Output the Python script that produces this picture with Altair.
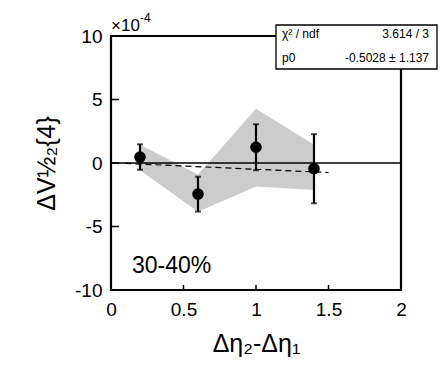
import altair as alt
import pandas as pd

# data points
x_vals = [0.2, 0.6, 1.0, 1.4]
y_vals = [0.47, -2.45, 1.24, -0.45]
y_err = [1.0, 1.37, 1.81, 2.72]

# systematic band
band_x = [0.2, 0.6, 1.0, 1.4]
band_lo = [-0.57, -3.83, -1.86, -2.13]
band_hi = [1.44, -0.9, 4.27, 1.44]

# fit line (dashed)
fit_x = [0.1, 1.5]
fit_y = [-0.03, -0.75]

# axis ticks
x_ticks = [0, 0.5, 1, 1.5, 2]
y_ticks = [-10, -5, 0, 5, 10]

FONT = "Liberation Sans"
W, H = 290, 254

xs = alt.Scale(domain=[0, 2], nice=False, zero=False)
ys = alt.Scale(domain=[-10, 10], nice=False, zero=False)

pts = pd.DataFrame({"x": x_vals, "y": y_vals,
                    "lo": [a - b for a, b in zip(y_vals, y_err)],
                    "hi": [a + b for a, b in zip(y_vals, y_err)]})
band = pd.DataFrame({"x": band_x, "lo": band_lo, "hi": band_hi})
fit = pd.DataFrame({"x": fit_x, "y": fit_y})

xaxis = alt.Axis(values=x_ticks, ticks=False, domain=False, grid=False,
                 labelExpr="'' + datum.value",
                 labelFont=FONT, labelFontSize=19, labelPadding=10,
                 labelColor="black", title="Δη₂-Δη₁", titleFont=FONT,
                 titleFontSize=25, titleFontWeight="normal", titlePadding=12,
                 titleColor="black", labelFlush=False)
yaxis = alt.Axis(values=y_ticks, ticks=False, domain=False, grid=False,
                 labelExpr="'' + datum.value",
                 labelFont=FONT, labelFontSize=19, labelPadding=9,
                 labelColor="black", title="ΔV½₂{4}", titleFont=FONT,
                 titleFontSize=25, titleFontWeight="normal", titlePadding=15,
                 titleColor="black", labelFlush=False)

base = alt.Chart(band)
area = base.mark_area(color="#cccccc", opacity=1).encode(
    x=alt.X("x:Q", scale=xs, axis=xaxis),
    y=alt.Y("lo:Q", scale=ys, axis=yaxis),
    y2="hi:Q")

zero = alt.Chart(pd.DataFrame({"x": [0], "x2": [2], "y": [0]})).mark_rule(
    color="black", strokeWidth=1.3).encode(
    x=alt.X("x:Q", scale=xs), x2="x2:Q", y=alt.Y("y:Q", scale=ys))

fitl = alt.Chart(fit).mark_line(color="black", strokeWidth=1.2,
                                strokeDash=[6, 4]).encode(
    x=alt.X("x:Q", scale=xs), y=alt.Y("y:Q", scale=ys))

bars = alt.Chart(pts).mark_rule(color="black", strokeWidth=2.2).encode(
    x=alt.X("x:Q", scale=xs), y=alt.Y("lo:Q", scale=ys), y2="hi:Q")
caplo = alt.Chart(pts).mark_tick(color="black", orient="horizontal",
                                 size=6, thickness=2).encode(
    x=alt.X("x:Q", scale=xs), y=alt.Y("lo:Q", scale=ys))
caphi = alt.Chart(pts).mark_tick(color="black", orient="horizontal",
                                 size=6, thickness=2).encode(
    x=alt.X("x:Q", scale=xs), y=alt.Y("hi:Q", scale=ys))
dots = alt.Chart(pts).mark_circle(color="black", opacity=1, size=135).encode(
    x=alt.X("x:Q", scale=xs), y=alt.Y("y:Q", scale=ys))

# inward ticks
yt = pd.DataFrame({"y": y_ticks[1:-1]})
ytick = alt.Chart(yt).mark_rule(color="black", strokeWidth=1.5).encode(
    x=alt.value(0), x2=alt.value(8), y=alt.Y("y:Q", scale=ys))
xt = pd.DataFrame({"x": x_ticks[1:-1]})
xtick = alt.Chart(xt).mark_rule(color="black", strokeWidth=1.5).encode(
    x=alt.X("x:Q", scale=xs), y=alt.value(H), y2=alt.value(H - 5))

# annotations
exp_txt = alt.Chart(pd.DataFrame({"t": ["×10"]})).mark_text(
    font=FONT, fontSize=17, align="left", baseline="alphabetic", color="black").encode(
    text="t:N", x=alt.value(0), y=alt.value(-5))
exp_sup = alt.Chart(pd.DataFrame({"t": ["-4"]})).mark_text(
    font=FONT, fontSize=12, align="left", baseline="alphabetic", color="black").encode(
    text="t:N", x=alt.value(29), y=alt.value(-14))

cent = alt.Chart(pd.DataFrame({"t": ["30-40%"]})).mark_text(
    font=FONT, fontSize=23, align="left", baseline="alphabetic", color="black").encode(
    text="t:N", x=alt.value(21), y=alt.value(237))

box = alt.Chart(pd.DataFrame({"a": [0]})).mark_rect(
    fill="white", stroke="black", strokeWidth=1.3).encode(
    x=alt.value(165), x2=alt.value(326), y=alt.value(-11), y2=alt.value(33))

stat_l = alt.Chart(pd.DataFrame({"t": ["χ² / ndf", "p0"], "yy": [-2, 22]})).mark_text(
    font=FONT, fontSize=12, align="left", baseline="middle", color="black").encode(
    text="t:N", x=alt.value(171), y=alt.Y("yy:Q", scale=None))
stat_r = alt.Chart(pd.DataFrame({"t": ["3.614 / 3", "-0.5028 ± 1.137"], "yy": [-2, 22]})).mark_text(
    font=FONT, fontSize=12, align="right", baseline="middle", color="black").encode(
    text="t:N", x=alt.value(318), y=alt.Y("yy:Q", scale=None))

chart = alt.layer(area, zero, fitl, bars, caplo, caphi, dots, ytick, xtick,
                  exp_txt, exp_sup, cent, box, stat_l, stat_r).properties(
    width=W, height=H,
    autosize=alt.AutoSizeParams(type="none"),
    padding={"left": 103, "top": 28, "right": 37, "bottom": 76},
    background="white",
).configure_view(stroke="black", strokeWidth=2.2)

chart.save("out.html", embed_options={"renderer": "svg", "actions": False})
